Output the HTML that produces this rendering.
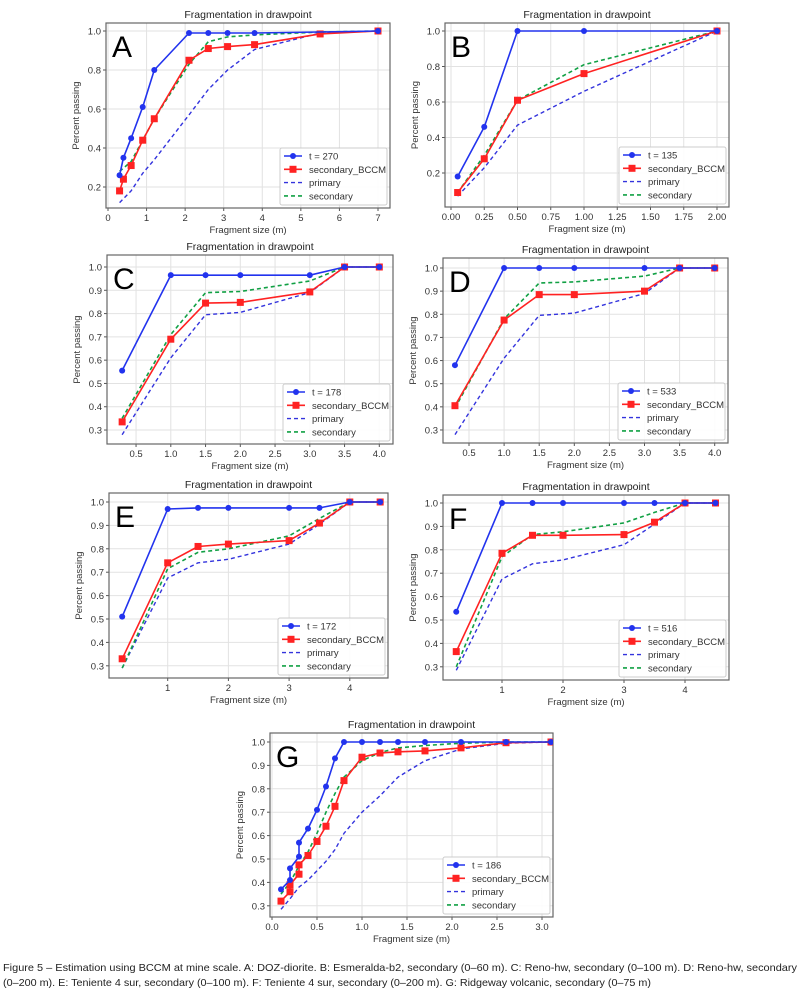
<!DOCTYPE html>
<html><head><meta charset="utf-8">
<style>
html,body{margin:0;padding:0;background:#fff;}
svg{display:block;font-family:"Liberation Sans",sans-serif;}
</style></head>
<body>
<svg id="fig" width="808" height="995" viewBox="0 0 808 995" xmlns="http://www.w3.org/2000/svg">
<g id="plots"></g>
<text x="3" y="971" font-size="10.5" fill="#222" textLength="794" lengthAdjust="spacingAndGlyphs">Figure 5 – Estimation using BCCM at mine scale. A: DOZ-diorite. B: Esmeralda-b2, secondary (0–60 m). C: Reno-hw, secondary (0–100 m). D: Reno-hw, secondary</text>
<text x="3" y="986" font-size="10.5" fill="#222" textLength="648" lengthAdjust="spacingAndGlyphs">(0–200 m). E: Teniente 4 sur, secondary (0–100 m). F: Teniente 4 sur, secondary (0–200 m). G: Ridgeway volcanic, secondary (0–75 m)</text>
</svg>
<script>
// ---- data ----
const aX = [0.3,0.4,0.6,0.9,1.2,2.1,2.6,3.1,3.8,5.5,7];
const aBlue = [0.26,0.35,0.45,0.61,0.80,0.99,0.99,0.99,0.99,0.995,1.0];
const aRed = [0.18,0.24,0.31,0.44,0.55,0.85,0.91,0.92,0.93,0.985,1.0];
const aPrimX = [0.3,0.6,0.9,1.2,2.1,2.6,3.1,3.8,5.5,7];
const aPrim = [0.12,0.18,0.27,0.34,0.57,0.70,0.80,0.905,0.99,1.0];
const aSec = [0.28,0.33,0.44,0.55,0.83,0.945,0.97,0.98,0.995,1.0];
const aBlueMarkN = 9;

const bX = [0.05,0.25,0.5,1.0,2.0];
const bBlue = [0.18,0.46,1.0,1.0,1.0];
const bRed = [0.09,0.28,0.61,0.76,1.0];
const bPrim = [0.07,0.23,0.47,0.66,1.0];
const bSec = [0.09,0.30,0.61,0.81,1.0];

const cX = [0.3,1.0,1.5,2.0,3.0,3.5,4.0];
const cBlue = [0.555,0.965,0.965,0.965,0.965,1.0,1.0];
const cRed = [0.335,0.69,0.845,0.848,0.893,1.0,1.0];
const cPrim = [0.28,0.61,0.795,0.805,0.89,1.0,1.0];
const cSec = [0.35,0.71,0.89,0.895,0.94,1.0,1.0];

const dX = [0.3,1.0,1.5,2.0,3.0,3.5,4.0];
const dBlue = [0.58,1,1,1,1,1,1];
const dRed = [0.405,0.775,0.885,0.885,0.9,1,1];
const dPrim = [0.28,0.61,0.795,0.805,0.89,1,1];
const dSec = [0.395,0.78,0.935,0.94,0.965,1,1];

const eX = [0.25,1,1.5,2,3,3.5,4,4.5];
const eBlue = [0.51,0.97,0.975,0.975,0.975,0.975,1,1];
const eRed = [0.33,0.74,0.81,0.82,0.835,0.91,1,1];
const ePrim = [0.29,0.675,0.74,0.755,0.82,0.905,1,1];
const eSec = [0.29,0.715,0.785,0.80,0.855,0.93,1,1];

const fX = [0.25,1,1.5,2,3,3.5,4,4.5];
const fBlue = [0.535,1,1,1,1,1,1,1];
const fRed = [0.365,0.785,0.862,0.862,0.865,0.918,1,1];
const fPrim = [0.285,0.675,0.74,0.757,0.822,0.91,1,1];
const fSec = [0.3,0.77,0.865,0.877,0.915,0.96,1,1];

const gX = [0.1,0.2,0.2,0.3,0.3,0.4,0.5,0.6,0.7,0.8,1.0,1.2,1.4,1.7,2.1,2.6,3.1];
const gBlue = [0.37,0.41,0.46,0.51,0.57,0.63,0.71,0.81,0.93,1,1,1,1,1,1,1,1];
const gRed = [0.32,0.36,0.39,0.435,0.475,0.515,0.575,0.64,0.725,0.835,0.935,0.953,0.958,0.962,0.975,0.997,1.0];
const gLX = [0.1,0.2,0.3,0.4,0.5,0.6,0.7,0.8,1.0,1.2,1.4,1.7,2.1,2.6,3.1];
const gPrim = [0.285,0.33,0.38,0.41,0.45,0.49,0.54,0.61,0.70,0.77,0.85,0.92,0.97,0.995,1.0];
const gSec = [0.35,0.40,0.47,0.53,0.61,0.70,0.78,0.85,0.92,0.955,0.975,0.985,0.995,1.0,1.0];

const tA = "270", tB = "135", tC = "178", tD = "533", tE = "172", tF = "516", tG = "186";
const xtA = [0,1,2,3,4,5,6,7];
const xtB = [0,0.25,0.5,0.75,1.0,1.25,1.5,1.75,2.0];
const xtCD = [0.5,1.0,1.5,2.0,2.5,3.0,3.5,4.0];
const xtEF = [1,2,3,4];
const xtG = [0,0.5,1.0,1.5,2.0,2.5,3.0];
const ytAB = [0.2,0.4,0.6,0.8,1.0];
const ytC = [0.3,0.4,0.5,0.6,0.7,0.8,0.9,1.0];

// ---- layout ----
const NS = "http://www.w3.org/2000/svg";
const root = document.getElementById('plots');
function mk(tag, attrs, parent){const e=document.createElementNS(NS,tag);for(const k in attrs)e.setAttribute(k,attrs[k]);(parent||root).appendChild(e);return e;}

const panels = [
 {L:'A',box:[106,23,390,208],x0:108,xs:38.57,y1:31,ys:195,xt:xtA,xd:0,yt:ytAB,yd:1,
  series:[{x:aX,y:aBlue},{x:aX,y:aRed},{x:aPrimX,y:aPrim},{x:aPrimX,y:aSec}],t:tA},
 {L:'B',box:[445,23,729,207],x0:451,xs:133,y1:31,ys:177.5,xt:xtB,xd:2,yt:ytAB,yd:1,
  series:[{x:bX,y:bBlue},{x:bX,y:bRed},{x:bX,y:bPrim},{x:bX,y:bSec}],t:tB},
 {L:'C',box:[107,255,393,444],x0:101.3,xs:69.5,y1:267,ys:232.9,xt:xtCD,xd:1,yt:ytC,yd:1,
  series:[{x:cX,y:cBlue},{x:cX,y:cRed},{x:cX,y:cPrim},{x:cX,y:cSec}],t:tC},
 {L:'D',box:[443,258,728,443],x0:433.9,xs:70.2,y1:268,ys:231.4,xt:xtCD,xd:1,yt:ytC,yd:1,
  series:[{x:dX,y:dBlue},{x:dX,y:dRed},{x:dX,y:dPrim},{x:dX,y:dSec}],t:tD},
 {L:'E',box:[109,493,388,678],x0:107,xs:60.7,y1:502,ys:234,xt:xtEF,xd:0,yt:ytC,yd:1,
  series:[{x:eX,y:eBlue},{x:eX,y:eRed},{x:eX,y:ePrim},{x:eX,y:eSec}],t:tE},
 {L:'F',box:[443,495,729,680],x0:441,xs:61,y1:503,ys:234,xt:xtEF,xd:0,yt:ytC,yd:1,
  series:[{x:fX,y:fBlue},{x:fX,y:fRed},{x:fX,y:fPrim},{x:fX,y:fSec}],t:tF},
 {L:'G',box:[270,733,553,917],x0:272,xs:90,y1:742,ys:234,xt:xtG,xd:1,yt:ytC,yd:1,
  series:[{x:gX,y:gBlue},{x:gX,y:gRed},{x:gLX,y:gPrim},{x:gLX,y:gSec}],t:tG}
];

const BLUE="#2233ee", RED="#ff2222", PBLUE="#3333dd", GREEN="#11a044";

panels.forEach(p=>{
  const [l,t,r,b]=p.box;
  const sx=v=>p.x0+v*p.xs, sy=v=>p.y1+(1-v)*p.ys;
  const g=mk('g',{});
  
  
  const clipId='clip'+p.L;
  const cp=mk('clipPath',{id:clipId},g); mk('rect',{x:l,y:t,width:r-l,height:b-t},cp);
  p.xt.forEach(v=>{const x=sx(v);
    const gl=mk('line',{x1:x,x2:x,y1:t,y2:b,stroke:'#e2e2e2','stroke-width':1},g);
    
    
    mk('line',{x1:x,x2:x,y1:b,y2:b+3,stroke:'#555'},g);
    const tl=mk('text',{x:x,y:b+13,'font-size':9.5,'text-anchor':'middle',fill:'#333'},g);
    tl.textContent=v.toFixed(p.xd);
    
    
  });
  p.yt.forEach(v=>{const y=sy(v);
    const gl=mk('line',{x1:l,x2:r,y1:y,y2:y,stroke:'#e2e2e2','stroke-width':1},g);
    
    
    mk('line',{x1:l-3,x2:l,y1:y,y2:y,stroke:'#555'},g);
    const tl=mk('text',{x:l-5,y:y+3.5,'font-size':9.5,'text-anchor':'end',fill:'#333'},g);
    tl.textContent=v.toFixed(p.yd);
    
    
  });
  const fr=mk('rect',{x:l,y:t,width:r-l,height:b-t,fill:'none',stroke:'#666','stroke-width':1.2},g);
  
  
  const ti=mk('text',{x:(l+r)/2,y:t-5,'font-size':10.5,'text-anchor':'middle',fill:'#222'},g);
  ti.textContent='Fragmentation in drawpoint';
  
  
  const xl=mk('text',{x:(l+r)/2,y:b+25,'font-size':9.5,'text-anchor':'middle',fill:'#333'},g);
  xl.textContent='Fragment size (m)';
  
  
  const yl=mk('text',{x:0,y:0,'font-size':9.5,'text-anchor':'middle',fill:'#333',transform:`translate(${l-27},${(t+b)/2}) rotate(-90)`},g);
  yl.textContent='Percent passing';
  
  
  const pl=mk('text',{x:l+6,y:t+34,'font-size':30,fill:'#000'},g);
  pl.textContent=p.L;
  
  
  const cg=mk('g',{'clip-path':`url(#${clipId})`},g);
  const styles=[
    {c:BLUE,w:1.6,d:'',m:'circle',n:'series-t'},
    {c:RED,w:1.6,d:'',m:'square',n:'series-secondary-bccm'},
    {c:PBLUE,w:1.4,d:'4,3',m:'',n:'series-primary'},
    {c:GREEN,w:1.6,d:'4,3',m:'',n:'series-secondary'}];
  const order=[2,3,1,0];
  order.forEach(i=>{
    const s=p.series[i], st=styles[i];
    const pts=s.x.map((xv,k)=>sx(xv).toFixed(1)+','+sy(s.y[k]).toFixed(1)).join(' ');
    const pl2=mk('polyline',{points:pts,fill:'none',stroke:st.c,'stroke-width':st.w,'stroke-dasharray':st.d,'stroke-linejoin':'round'},cg);
    
    
    if(st.m){
      s.x.forEach((xv,k)=>{
        if(p.L==='A'&&i===0&&k===aBlueMarkN)return;
        const X=sx(xv),Y=sy(s.y[k]);
        let mEl;
        if(st.m==='circle') mEl=mk('circle',{cx:X,cy:Y,r:3,fill:st.c},cg);
        else mEl=mk('rect',{x:X-3.5,y:Y-3.5,width:7,height:7,fill:st.c},cg);
        
        
      });
    }
  });
  const lw=107,lh=57,lx=r-lw-3,ly=b-lh-3;
  const lg=mk('g',{},g);
  
  
  mk('rect',{x:lx,y:ly,width:lw,height:lh,fill:'#fff','fill-opacity':0.9,stroke:'#ccc',rx:2},lg);
  const labels=['t = '+p.t,'secondary_BCCM','primary','secondary'];
  labels.forEach((txt,k)=>{
    const yy=ly+8+k*13.3, st=styles[k];
    const e=mk('g',{},lg);
    
    
    mk('line',{x1:lx+4,x2:lx+22,y1:yy,y2:yy,stroke:st.c,'stroke-width':st.w,'stroke-dasharray':st.d},e);
    if(st.m==='circle') mk('circle',{cx:lx+13,cy:yy,r:3,fill:st.c},e);
    if(st.m==='square') mk('rect',{x:lx+9.5,y:yy-3.5,width:7,height:7,fill:st.c},e);
    const tx=mk('text',{x:lx+29,y:yy+3.5,'font-size':9.5,fill:'#333'},e);
    tx.textContent=txt;
  });
});
</script>
</body></html>
